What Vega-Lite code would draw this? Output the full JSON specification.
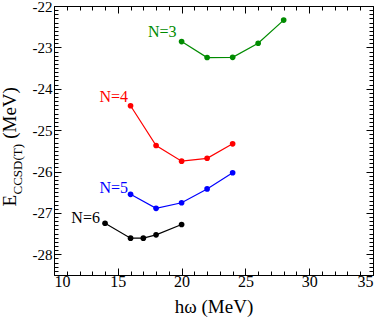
{
  "$schema": "https://vega.github.io/schema/vega-lite/v6.json",
  "width": 319,
  "height": 269,
  "autosize": "none",
  "padding": {"left": 54, "top": 6, "right": 9, "bottom": 42},
  "config": {
    "view": {"stroke": null},
    "font": "Liberation Serif",
    "axis": {"grid": false, "domainColor": "black", "tickColor": "black", "labelColor": "black", "titleColor": "black", "labelFont": "Liberation Serif", "titleFont": "Liberation Serif", "titleFontWeight": "normal", "labelOverlap": false, "domainWidth": 1, "tickWidth": 1}
  },
  "datasets": {
    "pts": [
      {"series": "N=3", "hw": 20, "E": -22.86},
      {"series": "N=3", "hw": 22, "E": -23.245},
      {"series": "N=3", "hw": 24, "E": -23.24},
      {"series": "N=3", "hw": 26, "E": -22.9},
      {"series": "N=3", "hw": 28, "E": -22.34},
      {"series": "N=4", "hw": 16, "E": -24.41},
      {"series": "N=4", "hw": 18, "E": -25.37},
      {"series": "N=4", "hw": 20, "E": -25.75},
      {"series": "N=4", "hw": 22, "E": -25.68},
      {"series": "N=4", "hw": 24, "E": -25.33},
      {"series": "N=5", "hw": 16, "E": -26.55},
      {"series": "N=5", "hw": 18, "E": -26.89},
      {"series": "N=5", "hw": 20, "E": -26.755},
      {"series": "N=5", "hw": 22, "E": -26.42},
      {"series": "N=5", "hw": 24, "E": -26.03},
      {"series": "N=6", "hw": 14, "E": -27.25},
      {"series": "N=6", "hw": 16, "E": -27.61},
      {"series": "N=6", "hw": 17, "E": -27.61},
      {"series": "N=6", "hw": 18, "E": -27.53},
      {"series": "N=6", "hw": 20, "E": -27.28}
    ],
    "labels": [
      {"series": "N=3", "lx": 19.6, "ly": -22.75},
      {"series": "N=4", "lx": 15.8, "ly": -24.32},
      {"series": "N=5", "lx": 15.8, "ly": -26.52},
      {"series": "N=6", "lx": 13.6, "ly": -27.24}
    ]
  },
  "layer": [
    {
      "data": {"name": "pts"},
      "mark": {"type": "line", "strokeWidth": 1.2},
      "encoding": {
        "x": {"field": "hw", "type": "quantitative",
          "scale": {"domain": [10, 35], "nice": false, "zero": false},
          "axis": {"orient": "bottom", "title": "hω (MeV)", "titleColor": "black", "titleFontSize": 19, "titleX": 159.5, "titleY": 37, "titleBaseline": "alphabetic", "titleAlign": "center",
            "values": [10,11,12,13,14,15,16,17,18,19,20,21,22,23,24,25,26,27,28,29,30,31,32,33,34,35],
            "tickSize": {"condition": {"test": "datum.value % 5 === 0", "value": -7}, "value": -4},
            "labelExpr": "datum.value % 5 === 0 ? '' + datum.value : ''",
            "labelFontSize": 16, "labelPadding": 5}},
        "y": {"field": "E", "type": "quantitative",
          "scale": {"domain": [-28.5, -22], "nice": false, "zero": false},
          "axis": {"orient": "left", "title": "E\u2003\u2003\u2002\u2009 (MeV)", "titleColor": "black", "titleFontSize": 19, "titleAngle": -90, "titleAlign": "left", "titleBaseline": "alphabetic", "titleX": -39, "titleY": 200,
            "values": [-28.5,-28.4,-28.3,-28.2,-28.1,-28,-27.9,-27.8,-27.7,-27.6,-27.5,-27.4,-27.3,-27.2,-27.1,-27,-26.9,-26.8,-26.7,-26.6,-26.5,-26.4,-26.3,-26.2,-26.1,-26,-25.9,-25.8,-25.7,-25.6,-25.5,-25.4,-25.3,-25.2,-25.1,-25,-24.9,-24.8,-24.7,-24.6,-24.5,-24.4,-24.3,-24.2,-24.1,-24,-23.9,-23.8,-23.7,-23.6,-23.5,-23.4,-23.3,-23.2,-23.1,-23,-22.9,-22.8,-22.7,-22.6,-22.5,-22.4,-22.3,-22.2,-22.1,-22],
            "tickSize": {"condition": {"test": "abs(datum.value - round(datum.value)) < 0.001", "value": -7}, "value": -4},
            "labelExpr": "abs(datum.value - round(datum.value)) < 0.001 ? '' + round(datum.value) : ''",
            "labelFontSize": 15, "labelPadding": 9}},
        "color": {"field": "series", "type": "nominal",
          "scale": {"domain": ["N=3", "N=4", "N=5", "N=6"], "range": ["#008b00", "#ff0000", "#0000ff", "#000000"]},
          "legend": null}
      }
    },
    {
      "data": {"name": "pts"},
      "mark": {"type": "circle", "size": 32, "opacity": 1},
      "encoding": {
        "x": {"field": "hw", "type": "quantitative",
          "axis": {"orient": "top", "title": null, "labels": false,
            "values": [10,11,12,13,14,15,16,17,18,19,20,21,22,23,24,25,26,27,28,29,30,31,32,33,34,35],
            "tickSize": {"condition": {"test": "datum.value % 5 === 0", "value": -7}, "value": -4}}},
        "y": {"field": "E", "type": "quantitative",
          "axis": {"orient": "right", "title": null, "labels": false,
            "values": [-28.5,-28.4,-28.3,-28.2,-28.1,-28,-27.9,-27.8,-27.7,-27.6,-27.5,-27.4,-27.3,-27.2,-27.1,-27,-26.9,-26.8,-26.7,-26.6,-26.5,-26.4,-26.3,-26.2,-26.1,-26,-25.9,-25.8,-25.7,-25.6,-25.5,-25.4,-25.3,-25.2,-25.1,-25,-24.9,-24.8,-24.7,-24.6,-24.5,-24.4,-24.3,-24.2,-24.1,-24,-23.9,-23.8,-23.7,-23.6,-23.5,-23.4,-23.3,-23.2,-23.1,-23,-22.9,-22.8,-22.7,-22.6,-22.5,-22.4,-22.3,-22.2,-22.1,-22],
            "tickSize": {"condition": {"test": "abs(datum.value - round(datum.value)) < 0.001", "value": -7}, "value": -4}}},
        "color": {"field": "series", "type": "nominal", "legend": null}
      }
    },
    {
      "data": {"name": "labels"},
      "mark": {"type": "text", "align": "right", "baseline": "alphabetic", "fontSize": 16, "font": "Liberation Serif"},
      "encoding": {
        "x": {"field": "lx", "type": "quantitative", "axis": null},
        "y": {"field": "ly", "type": "quantitative",
          "axis": {"orient": "left", "title": "CCSD(T)", "titleColor": "black", "titleFontSize": 13, "titleAngle": -90, "titleAlign": "left", "titleBaseline": "alphabetic", "titleX": -33, "titleY": 188, "labels": false, "ticks": false, "domain": false}},
        "text": {"field": "series"},
        "color": {"field": "series", "type": "nominal", "legend": null}
      }
    }
  ],
  "resolve": {"axis": {"x": "independent", "y": "independent"}}
}
